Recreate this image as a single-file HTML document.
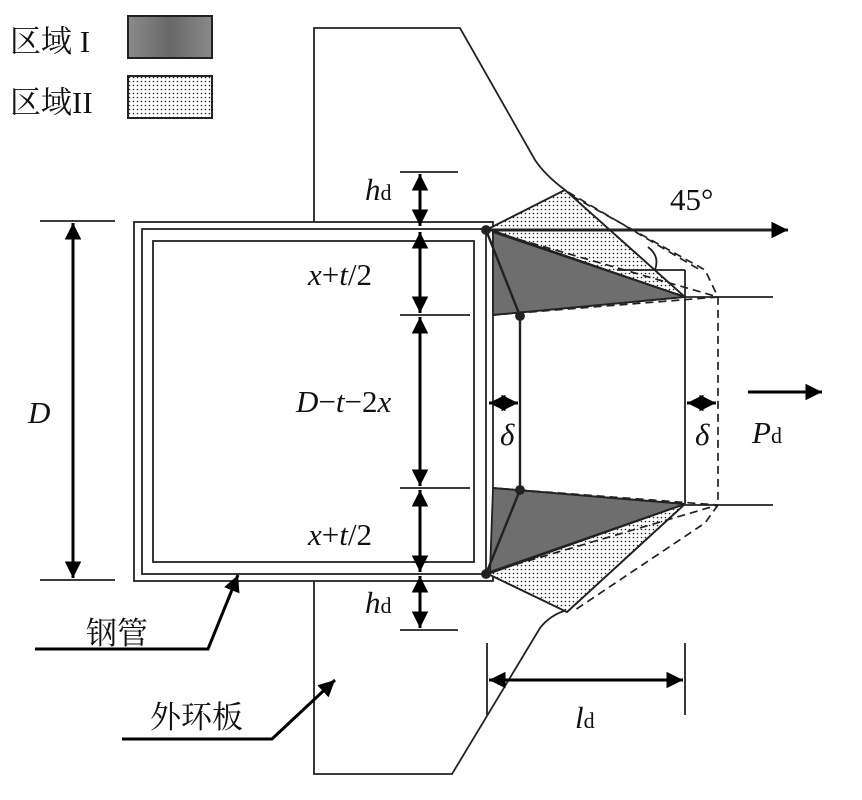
<!DOCTYPE html>
<html><head><meta charset="utf-8"><style>
body{margin:0;background:#fff}
svg text{font-family:"Liberation Serif","Noto Serif CJK SC",serif}
</style></head><body>
<svg width="862" height="795" viewBox="0 0 862 795" xmlns="http://www.w3.org/2000/svg">
<defs>
<pattern id="dots" width="4" height="4" patternUnits="userSpaceOnUse"><rect width="4" height="4" fill="#fff"/><circle cx="1.5" cy="1.5" r="0.8" fill="#222"/></pattern>
<linearGradient id="g" x1="0" x2="1"><stop offset="0" stop-color="#8a8a8a"/><stop offset="0.5" stop-color="#686868"/><stop offset="1" stop-color="#8a8a8a"/></linearGradient>
<marker id="a" viewBox="0 0 10 10" refX="10" refY="5" markerWidth="5.5" markerHeight="5.5" orient="auto-start-reverse"><path d="M0,0L10,5L0,10z" fill="#000"/></marker>
</defs>
<g fill="none" stroke="#222" stroke-width="1.8">
<rect x="128" y="16" width="84" height="42" fill="url(#g)" stroke-width="2"/>
<rect x="128" y="76" width="84" height="42" fill="url(#dots)" stroke-width="2"/>
<path d="M314,222V28H460L535,160Q545,175 565,190"/>
<path d="M314,581V774H452L540,628Q550,615 567,610"/>
<rect x="134" y="222" width="359" height="359"/>
<rect x="142" y="229" width="344" height="345"/>
<rect x="153" y="241" width="321" height="321"/>
<polygon points="488,229 565,190 685,297" fill="url(#dots)"/>
<polygon points="493,232 685,297 493,315" fill="#6e6e6e"/>
<polygon points="488,574 685,504 567,612" fill="url(#dots)"/>
<polygon points="493,488 685,504 490,572" fill="#6e6e6e"/>
<path d="M565,190L685,297M565,190L488,229M567,612L685,504M567,612L488,574" />
<path d="M493,232L685,297L493,315M493,488L685,504L490,572"/>
<g stroke-dasharray="8,5" stroke-width="1.7">
<path d="M572,196L705,270L718,297V505L705,523L575,610"/>
<path d="M493,232L718,297L493,315M493,488L718,505L490,572"/>
<path d="M568,192L700,270"/>
</g>
<path d="M486,230L520,316V490L486,574" stroke-width="2.4"/>
<path d="M685,270V505M617,270H685M685,297H773M685,505H773"/>
<path d="M648,247Q660,256 655,270"/>
<path d="M486,230H788" stroke-width="3" marker-end="url(#a)"/>
<path d="M400,172H458M400,315H470M400,488H470M400,630H458M40,221H115M40,580H115"/>
<g stroke-width="3" stroke="#000">
<path d="M420,174V226" marker-start="url(#a)" marker-end="url(#a)"/>
<path d="M420,232V313" marker-start="url(#a)" marker-end="url(#a)"/>
<path d="M420,317V486" marker-start="url(#a)" marker-end="url(#a)"/>
<path d="M420,490V572" marker-start="url(#a)" marker-end="url(#a)"/>
<path d="M420,576V628" marker-start="url(#a)" marker-end="url(#a)"/>
<path d="M73,223V578" marker-start="url(#a)" marker-end="url(#a)"/>
<path d="M489,403H518" marker-start="url(#a)" marker-end="url(#a)"/>
<path d="M687,403H716" marker-start="url(#a)" marker-end="url(#a)"/>
<path d="M748,392H822" marker-end="url(#a)"/>
<path d="M489,680H683" marker-start="url(#a)" marker-end="url(#a)"/>
<path d="M35,649H208L238,575" marker-end="url(#a)"/>
<path d="M122,739H272L335,680" marker-end="url(#a)"/>
</g>
<path d="M487,643V715M685,643V715"/>
<circle cx="486" cy="230" r="4" fill="#222"/><circle cx="486" cy="574" r="4" fill="#222"/>
<circle cx="520" cy="316" r="4" fill="#222"/><circle cx="520" cy="490" r="4" fill="#222"/>
</g>
<g font-size="31" fill="#111">
<text x="10" y="52">区域 I</text>
<text x="10" y="113">区域II</text>
<text x="670" y="210">45°</text>
<text x="28" y="423" font-style="italic">D</text>
<text x="365" y="200" font-style="italic">h<tspan font-size="22" font-style="normal">d</tspan></text>
<text x="365" y="613" font-style="italic">h<tspan font-size="22" font-style="normal">d</tspan></text>
<text x="308" y="285" font-style="italic">x<tspan font-style="normal">+</tspan>t<tspan font-style="normal">/2</tspan></text>
<text x="308" y="545" font-style="italic">x<tspan font-style="normal">+</tspan>t<tspan font-style="normal">/2</tspan></text>
<text x="296" y="412" font-style="italic">D<tspan font-style="normal">−</tspan>t<tspan font-style="normal">−2</tspan>x</text>
<text x="500" y="445" font-style="italic">δ</text>
<text x="695" y="445" font-style="italic">δ</text>
<text x="752" y="443" font-style="italic">P<tspan font-size="22" font-style="normal">d</tspan></text>
<text x="575" y="728" font-style="italic">l<tspan font-size="22" font-style="normal">d</tspan></text>
<text x="86" y="644">钢管</text>
<text x="150" y="728">外环板</text>
</g>
</svg>
</body></html>
